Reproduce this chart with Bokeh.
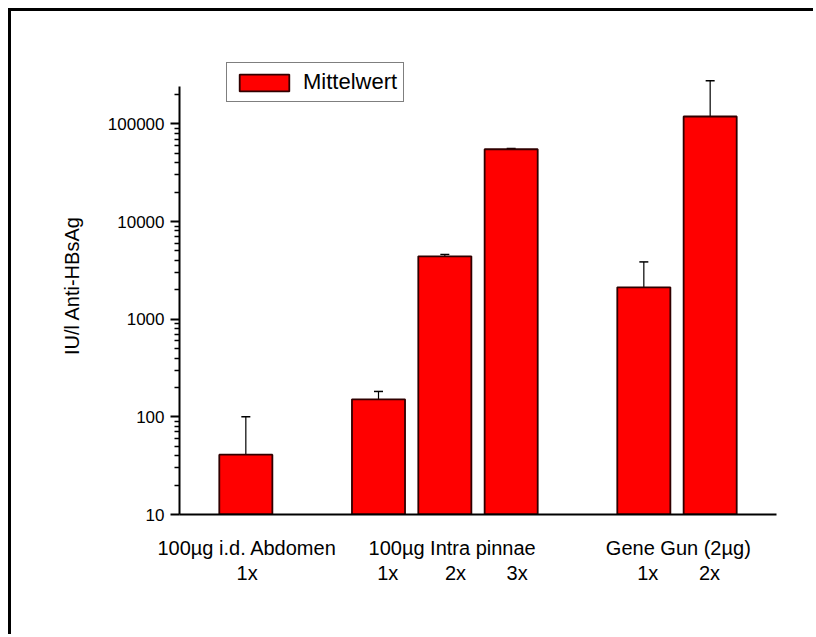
from bokeh.plotting import figure
from bokeh.models import (ColumnDataSource, FixedTicker, LinearAxis, LogAxis, Whisker, TeeHead,
                          Legend, LegendItem, PrintfTickFormatter, Range1d)
from bokeh.embed import file_html
from bokeh.resources import INLINE

# ---- data ----
positions = [1, 3, 4, 5, 7, 8]
means = [41, 151, 4400, 55000, 2120, 119000]
err_top = [100, 182, 4610, 56000, 3860, 276000]

group_pos = [1.02, 4.11, 7.52]
group_labels = ["100µg i.d. Abdomen", "100µg Intra pinnae", "Gene Gun (2µg)"]
sub_pos = [1.02, 3.14, 4.16, 5.09, 7.06, 7.99]
sub_labels = ["1x", "1x", "2x", "3x", "1x", "2x"]

y_major = [10, 100, 1000, 10000, 100000]
y_minor = [m * d for d in [10, 100, 1000, 10000] for m in range(2, 10)] + [200000]

FONT = "Liberation Sans"

p = figure(width=805, height=626, frame_width=597, frame_height=458,
           x_range=Range1d(0, 9), y_range=Range1d(10, 489778), y_axis_type="log",
           output_backend="svg", toolbar_location=None,
           min_border_left=168, min_border_top=45, min_border_right=40, min_border_bottom=123,
           x_axis_location=None, y_axis_location=None,
           styles={"margin-left": "11px", "margin-top": "11px",
                   "box-shadow": "-3px -3px 0px 0px black"})
p.grid.visible = False
p.outline_line_color = None
p.background_fill_color = "white"
p.border_fill_color = "white"

src = ColumnDataSource(dict(x=positions, top=means, bottom=[10] * len(means), err=err_top))
bars = p.vbar(x="x", top="top", bottom="bottom", width=0.8, source=src,
              fill_color="#FF0000", line_color="#300000", line_width=1.8)

wh = Whisker(base="x", lower="top", upper="err", source=src, dimension="height",
             line_color="black", line_width=1.2, lower_head=None,
             upper_head=TeeHead(size=9, line_color="black", line_width=1.5))
p.add_layout(wh)

# y axis
yax = LogAxis(ticker=FixedTicker(ticks=y_major, minor_ticks=y_minor),
              formatter=PrintfTickFormatter(format="%d"),
              bounds=(10, 240000),
              axis_label="IU/l Anti-HBsAg")
yax.axis_line_width = 2
yax.major_tick_in = 0
yax.major_tick_out = 9
yax.major_tick_line_width = 2
yax.minor_tick_in = 0
yax.minor_tick_out = 5
yax.minor_tick_line_width = 1.5
yax.major_label_standoff = 6
yax.major_label_text_font = FONT
yax.major_label_text_font_size = "17px"
yax.major_label_text_color = "black"
yax.axis_label_text_font = FONT
yax.axis_label_text_font_size = "20px"
yax.axis_label_text_font_style = "normal"
yax.axis_label_text_color = "black"
yax.axis_label_standoff = 22
p.add_layout(yax, "left")

# x axis with group labels
xax = LinearAxis(ticker=FixedTicker(ticks=group_pos),
                 major_label_overrides={v: t for v, t in zip(group_pos, group_labels)})
xax.axis_line_width = 2
xax.major_tick_line_color = None
xax.minor_tick_line_color = None
xax.major_tick_in = 0
xax.major_tick_out = 0
xax.major_label_standoff = 22
xax.major_label_text_font = FONT
xax.major_label_text_font_size = "20px"
xax.major_label_text_color = "black"
p.add_layout(xax, "below")

# sub labels axis
xax2 = LinearAxis(ticker=FixedTicker(ticks=sub_pos),
                  major_label_overrides={v: t for v, t in zip(sub_pos, sub_labels)})
xax2.axis_line_color = None
xax2.major_tick_line_color = None
xax2.minor_tick_line_color = None
xax2.major_tick_in = 0
xax2.major_tick_out = 0
xax2.major_label_standoff = 0
xax2.major_label_text_font = FONT
xax2.major_label_text_font_size = "20px"
xax2.major_label_text_color = "black"
p.add_layout(xax2, "below")

legend = Legend(items=[LegendItem(label="Mittelwert", renderers=[bars])],
                location=(47, 412), glyph_width=62, glyph_height=21,
                padding=6, margin=0, label_standoff=8, label_height=21,
                label_text_font=FONT, label_text_font_size="22px",
                label_text_color="black",
                border_line_color="black", border_line_width=1.5,
                background_fill_alpha=1.0)
p.add_layout(legend, "center")

open("out.html", "w").write(file_html(p, INLINE))
